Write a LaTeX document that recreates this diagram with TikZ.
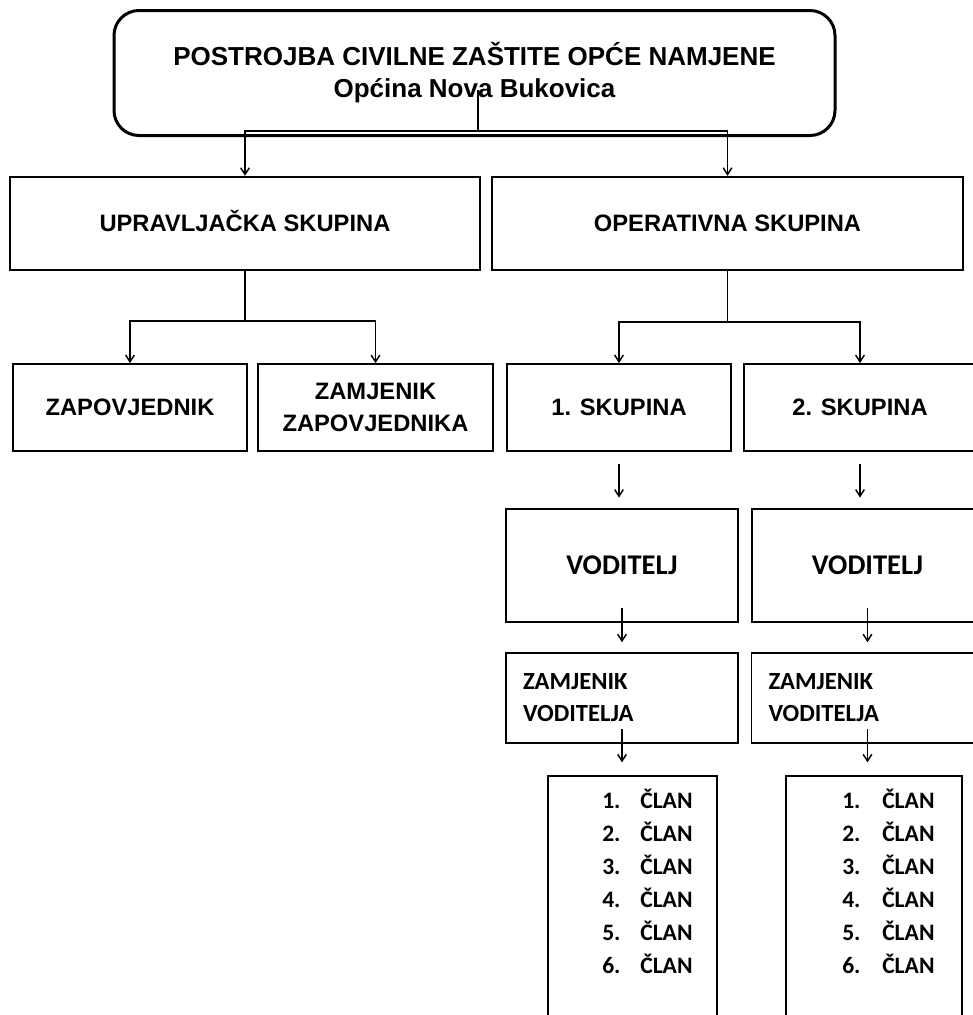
\documentclass[tikz,border=0pt]{standalone}
\usepackage{fontspec}
\setmainfont{Liberation Sans}
\newfontfamily\calibri{Carlito}
\usetikzlibrary{arrows.meta,positioning}

\tikzset{
	topbox/.style={draw,line width=2.25pt,rounded corners=18.75pt,inner sep=0pt,align=center,
		minimum width=540.75pt,minimum height=93.75pt,font=\fontsize{19.5}{24}\selectfont\bfseries},
	grpbox/.style={draw,line width=1.8pt,inner sep=0pt,align=center,text height=13pt,text depth=1.75pt,
		minimum width=352.5pt,minimum height=69.75pt,font=\fontsize{17.8}{24}\selectfont\bfseries},
	subbox/.style={draw,line width=1.4pt,inner sep=0pt,align=center,
		minimum height=65.25pt,font=\fontsize{17.8}{24}\selectfont\bfseries},
	vodbox/.style={draw,line width=1.2pt,inner sep=0pt,align=center,
		minimum width=174pt,minimum height=84.75pt,font=\calibri\fontsize{21.4}{24}\selectfont\bfseries},
	zvbox/.style={draw,line width=1.2pt,inner xsep=12.75pt,inner ysep=0pt,align=left,text width=148.5pt,
		minimum height=67.5pt,font=\calibri\fontsize{18.5}{24}\selectfont\bfseries},
	clbox/.style={draw,line width=1.2pt,inner sep=0pt,anchor=north,minimum height=187.5pt},
	clan/.style={anchor=base west,inner sep=0pt,font=\calibri\fontsize{17.7}{24}\selectfont\bfseries},
	veza/.style={line width=1.1pt}
}

\begin{document}
\begin{tikzpicture}[x=0.75pt,y=-0.75pt,>={Straight Barb[length=5pt,width=6.5pt]}]
	\useasboundingbox (0,0) rectangle (973,1015);
	% postrojba
	\node[topbox] (pcz) at (474.5,73) {POSTROJBA CIVILNE ZAŠTITE OPĆE NAMJENE\\Općina Nova Bukovica};
	\coordinate (pczc) at (478,90);
	% skupine
	\node[grpbox] (upr) at (245,223.5) {UPRAVLJAČKA SKUPINA};
	\node[grpbox,minimum width=353.25pt] (ops) at (727.5,223.5) {OPERATIVNA SKUPINA};
	\draw[veza,->] (pczc) -- ++(0,41) -| (upr.north);
	\draw[veza,->] (pczc) -- ++(0,41) -| (ops.north);
	% upravljacka
	\node[subbox,minimum width=175.5pt] (zap) at (130,407.5) {ZAPOVJEDNIK};
	\node[subbox,minimum width=176.25pt] (zzap) at (375.5,407.5) {ZAMJENIK\\ZAPOVJEDNIKA};
	\draw[veza,->] (upr.south) -- ++(0,50) -| (zap.north);
	\draw[veza,->] (upr.south) -- ++(0,50) -| (zzap.north);
	% operativna
	\node[subbox,minimum width=168pt] (sk1) at (619,407.5) {1. SKUPINA};
	\node[subbox,minimum width=174pt] (sk2) at (860,407.5) {2. SKUPINA};
	\draw[veza,->] (ops.south) -- ++(0,51) -| (sk1.north);
	\draw[veza,->] (ops.south) -- ++(0,51) -| (sk2.north);
	% voditelji
	\node[vodbox] (vod1) at (622,565.5) {VODITELJ};
	\node[vodbox,minimum width=173.25pt] (vod2) at (867.5,565.5) {VODITELJ};
	\draw[veza,->,shorten <=9pt,shorten >=8pt] (sk1.south) -- (sk1.south |- vod1.north);
	\draw[veza,->,shorten <=9pt,shorten >=8pt] (sk2.south) -- (sk2.south |- vod2.north);
	\node[zvbox] (zv1) at (622,698) {ZAMJENIK\\VODITELJA};
	\node[zvbox] (zv2) at (867.5,698) {ZAMJENIK\\VODITELJA};
	\draw[veza,->,shorten <=-11pt,shorten >=7.5pt] (vod1.south) -- (zv1.north);
	\draw[veza,->,shorten <=-11pt,shorten >=7.5pt] (vod2.south) -- (zv2.north);
	% clanovi
	\node[clbox,minimum width=126.75pt] (cl1) at (632.5,775) {};
	\node[clbox,minimum width=132pt] (cl2) at (874,775) {};
	\draw[veza,->,shorten <=-11pt,shorten >=9.5pt] (zv1.south) -- (zv1.south |- cl1.north);
	\draw[veza,->,shorten <=-11pt,shorten >=9.5pt] (zv2.south) -- (zv2.south |- cl2.north);
	\foreach \i in {1,...,6}{
		\node[clan] (cla\i) at (602,{775+33*\i}) {\makebox[28.5pt][l]{\i.}ČLAN};
		\node[clan] (clb\i) at (842,{775+33*\i}) {\makebox[30pt][l]{\i.}ČLAN};
	}
\end{tikzpicture}
\end{document}
